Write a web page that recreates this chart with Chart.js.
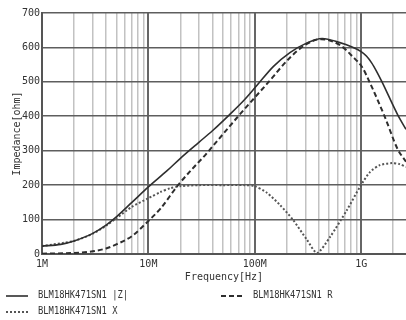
<!DOCTYPE html>
<html><head><meta charset="utf-8">
<script src="https://cdn.jsdelivr.net/npm/chart.js@4.4.1/dist/chart.umd.min.js"></script>
<style>html,body{margin:0;padding:0;background:#fff;overflow:hidden}</style>
</head><body>
<canvas id="c" width="410" height="320" style="display:block;width:410px;height:320px"></canvas>
<script>
// |Z| (solid)
const zFreq = [1e6, 1.5e6, 2e6, 3e6, 4e6, 5e6, 7e6, 10e6, 15e6, 20e6, 30e6, 40e6, 58e6, 80e6, 105e6, 150e6, 214e6, 300e6, 430e6, 630e6, 800e6, 1e9, 1.12e9, 1.25e9, 1.4e9, 1.57e9, 2.2e9, 2.64e9];
const zVal  = [23, 28, 38, 60, 84, 108, 150, 195, 242, 278, 325, 358, 405, 448, 490, 545, 585, 611, 626, 614, 603, 588, 575, 556, 530, 500, 405, 362];
// R (dashed)
const rFreq = [1e6, 2e6, 3e6, 4e6, 5e6, 7e6, 10e6, 13e6, 19e6, 26e6, 33e6, 40e6, 69e6, 130e6, 214e6, 300e6, 420e6, 630e6, 840e6, 1.02e9, 1.21e9, 1.67e9, 2.2e9, 2.64e9];
const rVal  = [1, 3, 8, 16, 28, 52, 96, 132, 200, 248, 282, 312, 398, 494, 570, 608, 624, 607, 572, 543, 497, 398, 305, 268];
// X (dotted)
const xFreq = [1e6, 2e6, 3e6, 4e6, 5e6, 7e6, 10e6, 13e6, 16e6, 20e6, 30e6, 50e6, 80e6, 100e6, 130e6, 173e6, 229e6, 310e6, 385e6, 509e6, 736e6, 975e6, 1.21e9, 1.5e9, 1.95e9, 2.3e9, 2.64e9];
const xVal  = [23, 38, 59, 82, 104, 137, 162, 180, 191, 197, 200, 200, 200, 197, 178, 142, 99, 41, 3, 49, 128, 195, 238, 258, 264, 261, 253];

const seriesLabels = ['BLM18HK471SN1 |Z|', 'BLM18HK471SN1 R', 'BLM18HK471SN1 X'];
const xTickLabels = {6: '1M', 7: '10M', 8: '100M', 9: '1G'};
const yTicks = [0, 100, 200, 300, 400, 500, 600, 700];
const X_MIN = 1e6, X_MAX = 2.64e9;

function pts(f, v) { return f.map((x, i) => ({x: x, y: v[i]})); }
function mant(v) {
  const e = Math.floor(Math.log10(v) + 1e-9);
  return {e: e, m: v / Math.pow(10, e)};
}
const FONT = '"DejaVu Sans Mono", monospace';

const legendPlugin = {
  id: 'legendBelow',
  afterDraw(chart) {
    const ctx = chart.ctx;
    const items = [{ds: 0, x: 6, y: 295}, {ds: 1, x: 221, y: 295}, {ds: 2, x: 6, y: 311}];
    items.forEach(it => {
      const ds = chart.data.datasets[it.ds];
      ctx.save();
      ctx.strokeStyle = ds.borderColor;
      ctx.lineWidth = ds.borderWidth;
      ctx.setLineDash(ds.borderDash || []);
      ctx.beginPath();
      ctx.moveTo(it.x, it.y + 1);
      ctx.lineTo(it.x + 22, it.y + 1);
      ctx.stroke();
      ctx.setLineDash([]);
      ctx.fillStyle = '#333';
      ctx.font = '11px ' + FONT;
      ctx.textBaseline = 'middle';
      ctx.translate(it.x + 32, it.y);
      ctx.scale(0.8, 1);
      ctx.fillText(ds.label, 0, 0);
      ctx.restore();
    });
  }
};

new Chart(document.getElementById('c'), {
  type: 'line',
  data: {
    datasets: [
      {label: seriesLabels[0], data: pts(zFreq, zVal), borderColor: '#2e2e2e', borderWidth: 1.6, cubicInterpolationMode: 'monotone', pointRadius: 0, fill: false},
      {label: seriesLabels[1], data: pts(rFreq, rVal), borderColor: '#2e2e2e', borderWidth: 2, borderDash: [5, 3], cubicInterpolationMode: 'monotone', pointRadius: 0, fill: false},
      {label: seriesLabels[2], data: pts(xFreq, xVal), borderColor: '#555', borderWidth: 2, borderDash: [2, 2], tension: 0.25, pointRadius: 0, fill: false}
    ]
  },
  options: {
    responsive: false,
    animation: false,
    layout: {padding: {top: 13, right: 0, left: 0, bottom: 36}},
    plugins: {legend: {display: false}, tooltip: {enabled: false}},
    scales: {
      x: {
        type: 'logarithmic',
        min: X_MIN, max: X_MAX,
        afterFit: s => { s.height = 30; },
        border: {display: true, color: '#555', width: 2},
        grid: {
          drawTicks: false,
          color: c => {
            const v = c.tick && c.tick.value;
            if (!v || v >= X_MAX) return 'rgba(0,0,0,0)';
            const mm = mant(v);
            if (Math.abs(mm.m - 1) < 1e-6) return '#666';
            if (Math.abs(mm.m - Math.round(mm.m)) < 1e-6) return '#c2c2c2';
            return 'rgba(0,0,0,0)';
          },
          lineWidth: c => {
            const v = c.tick && c.tick.value;
            if (!v) return 1;
            return Math.abs(mant(v).m - 1) < 1e-6 ? 2 : 1.5;
          }
        },
        ticks: {
          autoSkip: false, maxRotation: 0, padding: 4,
          color: '#333', font: {family: FONT, size: 10},
          callback: v => {
            const mm = mant(v);
            return Math.abs(mm.m - 1) < 1e-6 && xTickLabels[mm.e] ? xTickLabels[mm.e] : '';
          }
        },
        title: {display: true, text: 'Frequency[Hz]', color: '#333', font: {family: FONT, size: 10}, padding: {top: 0, bottom: 1}}
      },
      y: {
        min: 0, max: 700,
        afterFit: s => { s.width = 42; },
        afterBuildTicks: s => { s.ticks = yTicks.map(v => ({value: v})); },
        border: {display: true, color: '#555', width: 2},
        grid: {drawTicks: false, color: '#5e5e5e', lineWidth: 1.6},
        ticks: {padding: 2, color: '#333', font: {family: FONT, size: 10}},
        title: {display: true, text: 'Impedance[ohm]', color: '#333', font: {family: FONT, size: 10}, padding: {top: 11, bottom: 0}}
      }
    }
  },
  plugins: [legendPlugin]
});
</script>
</body></html>
